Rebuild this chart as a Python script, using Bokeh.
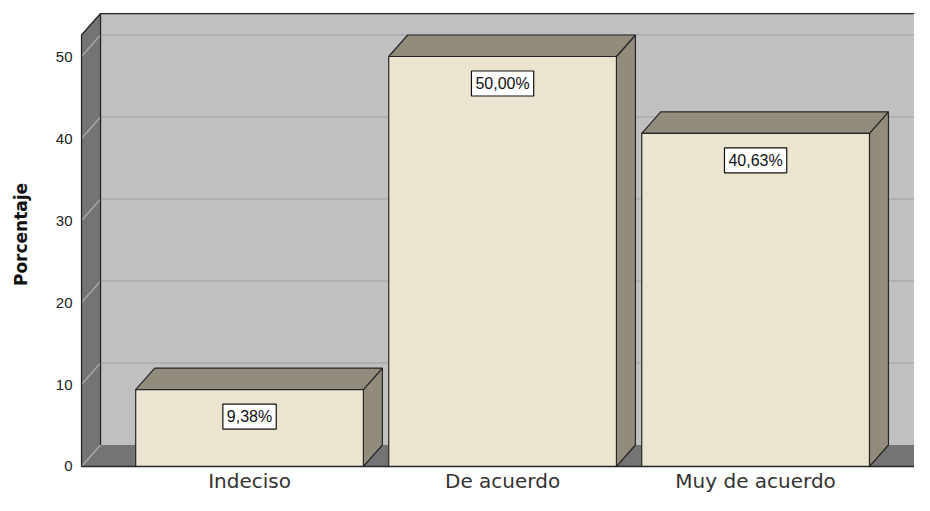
from bokeh.plotting import figure
from bokeh.models import Range1d, ColumnDataSource, FixedTicker
from bokeh.core.properties import value
from bokeh.embed import file_html
from bokeh.resources import INLINE

# ---- data ----
categories = ["Indeciso", "De acuerdo", "Muy de acuerdo"]
percentages = [9.38, 50.00, 40.63]
value_labels = ["9,38%", "50,00%", "40,63%"]
y_ticks = [0, 10, 20, 30, 40, 50]

# ---- layout constants (style) ----
W0 = -0.664          # front-left wall edge (data x)
X_START = -0.676     # frame left
X_END = 2.628        # frame right
Y_START = -0.244
Y_END = 56.83
DX, DY = 0.0751, 2.62   # 3D depth offset
WALL_TOP = 55.24
BAR_W = 0.9
FAR = X_END + 1.0

OUT = "#262626"
BAR_FRONT = "#EAE4D0"
BAR_SIDE = "#918C7C"
WALL = "#C0C0C0"
DARK = "#747474"
GRID = "#ABABAB"

p = figure(width=914, height=495,
           x_range=Range1d(X_START, X_END), y_range=Range1d(Y_START, Y_END),
           output_backend="svg", toolbar_location=None,
           min_border_left=78, min_border_right=0, min_border_top=0, min_border_bottom=27)
p.outline_line_color = None
p.grid.visible = False
p.background_fill_color = "white"

# back wall
p.quad(left=W0 + DX, right=FAR, bottom=DY, top=WALL_TOP, fill_color=WALL, line_color=None)
# left wall
p.patch([W0, W0 + DX, W0 + DX, W0], [0, DY, WALL_TOP, WALL_TOP - DY], fill_color=DARK, line_color=None)
# floor
p.patch([W0, W0 + DX, FAR, FAR], [0, DY, DY, 0], fill_color=DARK, line_color=None)

# grid lines on back wall and diagonals on the left wall
gt = y_ticks[1:]
p.segment(x0=[W0 + DX] * len(gt), y0=[t + DY for t in gt], x1=[FAR] * len(gt), y1=[t + DY for t in gt],
          line_color=GRID, line_width=1.5)
p.segment(x0=[W0] * len(y_ticks), y0=y_ticks, x1=[W0 + DX] * len(y_ticks), y1=[t + DY for t in y_ticks],
          line_color=GRID, line_width=1.2)

# wall outlines
p.line([W0, W0, W0 + DX, FAR], [0, WALL_TOP - DY, WALL_TOP, WALL_TOP], line_color=OUT, line_width=1.3)
p.line([W0 + DX, W0 + DX], [DY, WALL_TOP], line_color=OUT, line_width=1.3)

# bars
xs = list(range(len(categories)))
src = ColumnDataSource(dict(x=xs, top=percentages, label=value_labels))
side_xs, side_ys, top_xs, top_ys = [], [], [], []
for x, v in zip(xs, percentages):
    l, r = x - BAR_W / 2, x + BAR_W / 2
    side_xs.append([r, r + DX, r + DX, r])
    side_ys.append([0, DY, v + DY, v])
    top_xs.append([l, l + DX, r + DX, r])
    top_ys.append([v, v + DY, v + DY, v])
p.patches(side_xs, side_ys, fill_color=BAR_SIDE, line_color=OUT, line_width=1.2)
p.patches(top_xs, top_ys, fill_color=BAR_SIDE, line_color=OUT, line_width=1.2)
p.vbar(x="x", top="top", bottom=0, width=BAR_W, source=src,
       fill_color=BAR_FRONT, line_color=OUT, line_width=1.2)

# front floor edge
p.line([W0, FAR], [0, 0], line_color=OUT, line_width=1.5)

# value labels
p.text(x="x", y="top", text="label", source=src, y_offset=27,
       text_align="center", text_baseline="middle",
       text_font=value("Liberation Sans"), text_font_size="16px", text_color="#111111",
       background_fill_color="white", border_line_color="#111111", border_line_width=1.2,
       padding=4)

# axes
p.yaxis.ticker = FixedTicker(ticks=y_ticks)
p.yaxis.axis_line_color = None
p.yaxis.major_tick_out = 0
p.yaxis.major_tick_in = 0
p.yaxis.minor_tick_out = 0
p.yaxis.minor_tick_in = 0
p.yaxis.major_label_standoff = 6
p.yaxis.major_label_text_font = "Liberation Sans"
p.yaxis.major_label_text_font_size = "15px"
p.yaxis.major_label_text_color = "#222222"
p.yaxis.axis_label = "Porcentaje"
p.yaxis.axis_label_text_font = "DejaVu Sans"
p.yaxis.axis_label_text_font_style = "bold"
p.yaxis.axis_label_text_font_size = "17px"
p.yaxis.axis_label_text_color = "#111111"
p.yaxis.axis_label_standoff = 22

p.xaxis.ticker = FixedTicker(ticks=xs)
p.xaxis.major_label_overrides = {i: c for i, c in zip(xs, categories)}
p.xaxis.axis_line_color = None
p.xaxis.major_tick_out = 0
p.xaxis.major_tick_in = 0
p.xaxis.minor_tick_out = 0
p.xaxis.minor_tick_in = 0
p.xaxis.major_label_standoff = 0
p.xaxis.major_label_text_font = "DejaVu Sans"
p.xaxis.major_label_text_font_size = "20px"
p.xaxis.major_label_text_color = "#333333"

open("out.html", "w").write(file_html(p, INLINE))
